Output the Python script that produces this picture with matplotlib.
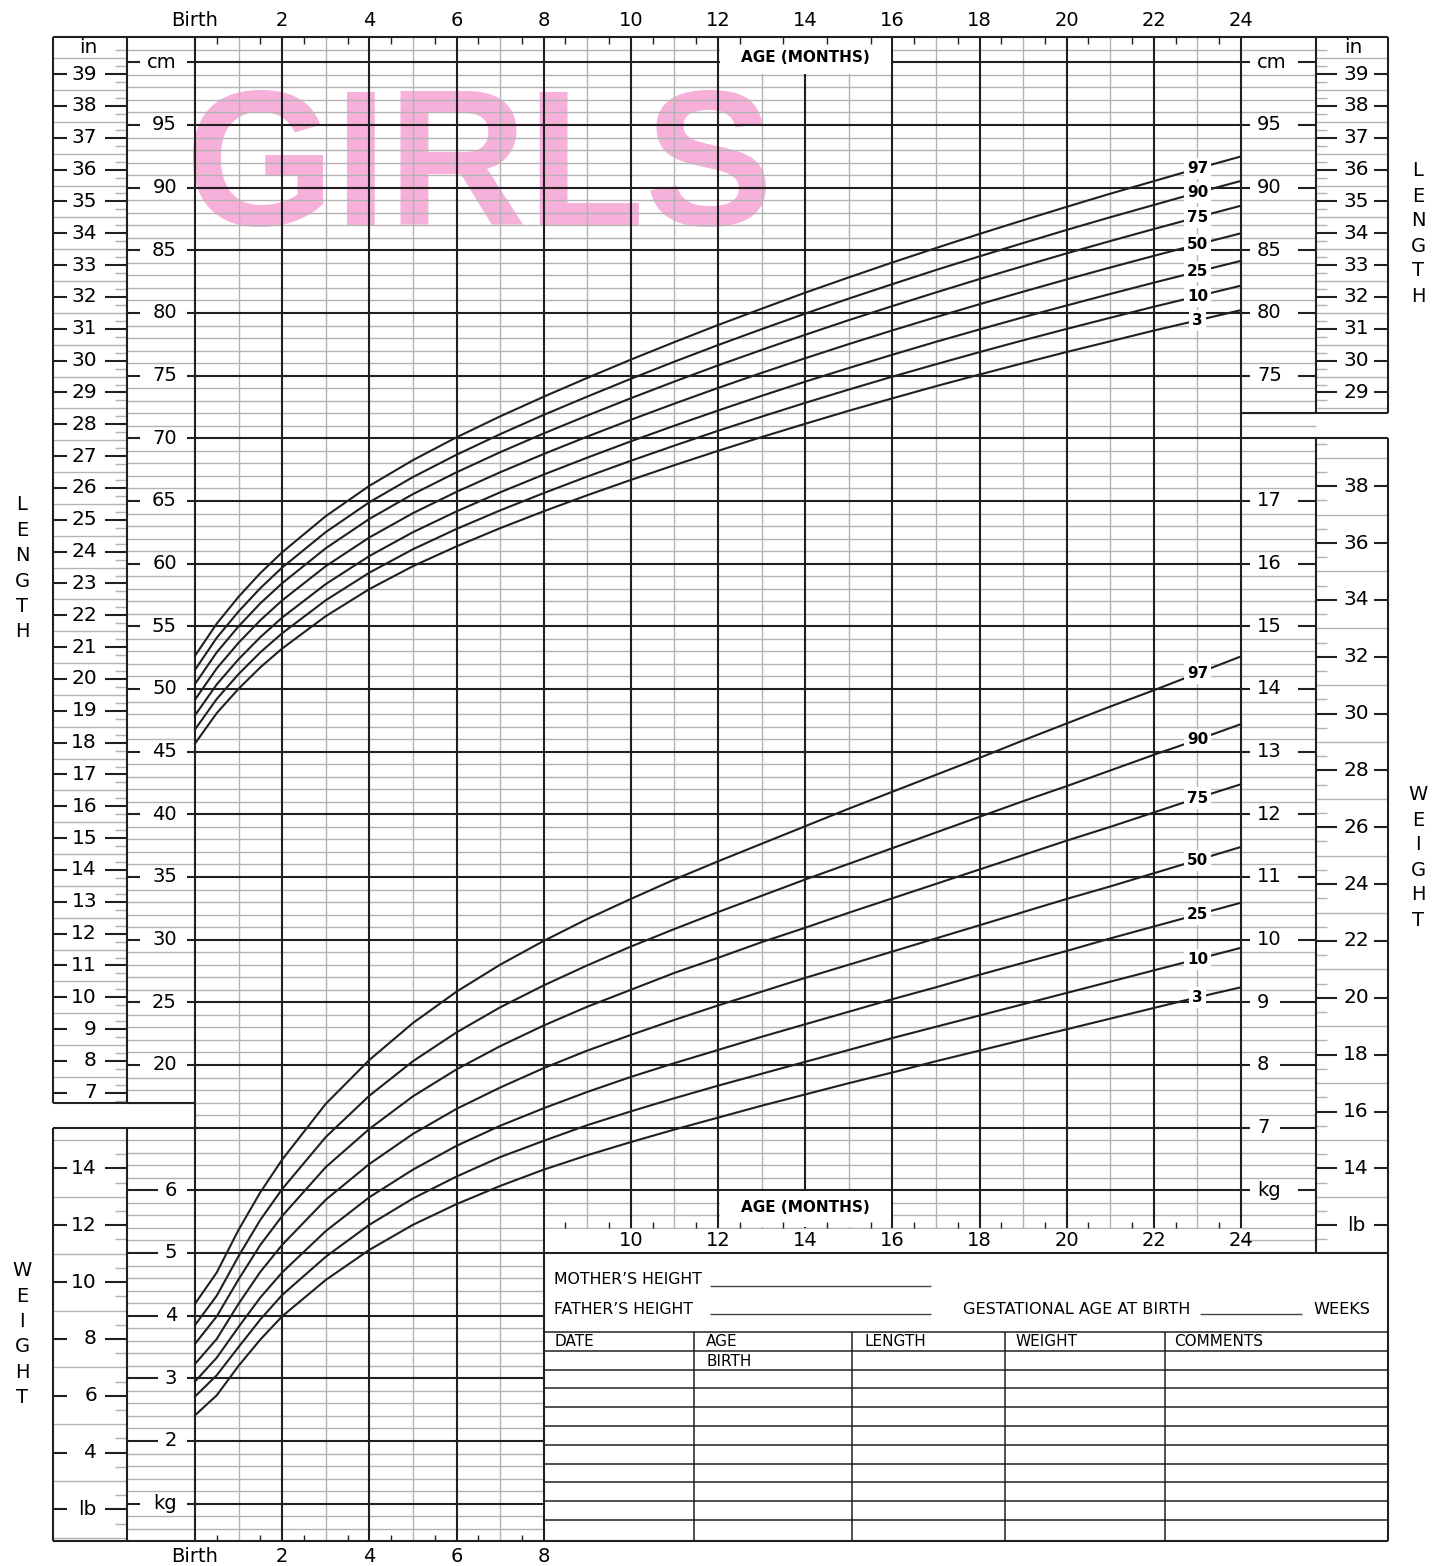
import numpy as np
import matplotlib
matplotlib.use("Agg")
from matplotlib import pyplot as plt
from matplotlib.patches import Rectangle

plt.rcParams['font.family'] = ['DejaVu Sans']

# ---------------- data ----------------
percentiles = ["3", "10", "25", "50", "75", "90", "97"]

# length (cm) by age (months)
length_age = [0, 0.5, 1, 1.5, 2, 3, 4, 5, 6, 7, 8, 9, 10, 11, 12, 13, 14,
              15, 16, 17, 18, 19, 20, 21, 22, 23, 24]
length_p3 = [45.65, 48.08, 50.02, 51.73, 53.23, 55.81, 57.97, 59.80, 61.38, 62.83, 64.18, 65.46,
             66.68, 67.86, 69.00, 70.10, 71.16, 72.20, 73.19, 74.16, 75.09, 76.00, 76.89, 77.74,
             78.60, 79.41, 80.23]
length_p10 = [46.77, 49.21, 51.19, 52.93, 54.45, 57.08, 59.28, 61.15, 62.77, 64.25, 65.63, 66.95,
              68.21, 69.42, 70.60, 71.73, 72.83, 73.89, 74.92, 75.91, 76.88, 77.82, 78.73, 79.62,
              80.50, 81.34, 82.18]
length_p25 = [47.90, 50.37, 52.38, 54.14, 55.70, 58.37, 60.61, 62.51, 64.17, 65.69, 67.11, 68.46,
              69.76, 71.01, 72.22, 73.39, 74.52, 75.61, 76.67, 77.70, 78.69, 79.66, 80.60, 81.52,
              82.42, 83.30, 84.16]
length_p50 = [49.15, 51.65, 53.69, 55.49, 57.07, 59.80, 62.09, 64.03, 65.73, 67.29, 68.75, 70.14,
              71.48, 72.77, 74.02, 75.22, 76.39, 77.52, 78.61, 79.67, 80.70, 81.70, 82.68, 83.63,
              84.56, 85.47, 86.36]
length_p75 = [50.40, 52.93, 55.00, 56.84, 58.44, 61.23, 63.57, 65.55, 67.29, 68.89, 70.39, 71.82,
              73.20, 74.53, 75.82, 77.05, 78.26, 79.43, 80.55, 81.64, 82.71, 83.74, 84.76, 85.74,
              86.70, 87.64, 88.56]
length_p90 = [51.53, 54.09, 56.19, 58.05, 59.69, 62.52, 64.90, 66.91, 68.69, 70.33, 71.87, 73.33,
              74.75, 76.12, 77.44, 78.71, 79.95, 81.15, 82.30, 83.43, 84.52, 85.58, 86.63, 87.64,
              88.62, 89.60, 90.54]
length_p97 = [52.65, 55.22, 57.36, 59.25, 60.91, 63.79, 66.21, 68.26, 70.08, 71.75, 73.32, 74.82,
              76.28, 77.68, 79.04, 80.34, 81.62, 82.84, 84.03, 85.18, 86.31, 87.40, 88.47, 89.52,
              90.52, 91.53, 92.49]

# weight (kg) by age (months)
weight_age = [0, 0.5, 1, 1.5, 2, 3, 4, 5, 6, 7, 8, 9, 10, 11, 12, 13, 14,
              15, 16, 17, 18, 19, 20, 21, 22, 23, 24]
weight_p3 = [2.41, 2.73, 3.20, 3.62, 3.99, 4.57, 5.05, 5.45, 5.78, 6.07, 6.33, 6.56, 6.77,
             6.97, 7.16, 7.35, 7.53, 7.71, 7.88, 8.06, 8.23, 8.40, 8.57, 8.74, 8.91, 9.08, 9.24]
weight_p10 = [2.71, 3.05, 3.50, 3.94, 4.33, 4.94, 5.45, 5.87, 6.22, 6.53, 6.79, 7.04, 7.26,
              7.47, 7.67, 7.86, 8.05, 8.24, 8.43, 8.61, 8.79, 8.97, 9.15, 9.33, 9.51, 9.69, 9.87]
weight_p25 = [2.95, 3.33, 3.82, 4.29, 4.69, 5.35, 5.89, 6.33, 6.71, 7.03, 7.31, 7.57, 7.81,
              8.03, 8.24, 8.45, 8.65, 8.85, 9.05, 9.24, 9.44, 9.63, 9.82, 10.02, 10.21, 10.40, 10.59]
weight_p50 = [3.23, 3.63, 4.19, 4.70, 5.13, 5.85, 6.42, 6.90, 7.30, 7.64, 7.95, 8.23, 8.48,
              8.72, 8.95, 9.17, 9.39, 9.60, 9.81, 10.02, 10.23, 10.44, 10.65, 10.85, 11.06, 11.27, 11.48]
weight_p75 = [3.55, 3.99, 4.58, 5.13, 5.59, 6.37, 6.98, 7.50, 7.93, 8.30, 8.63, 8.93, 9.20,
              9.47, 9.71, 9.96, 10.19, 10.43, 10.66, 10.89, 11.12, 11.35, 11.58, 11.80, 12.03, 12.26, 12.48]
weight_p90 = [3.85, 4.32, 4.95, 5.53, 6.02, 6.85, 7.51, 8.06, 8.52, 8.92, 9.27, 9.59, 9.89,
              10.17, 10.44, 10.70, 10.96, 11.21, 11.46, 11.71, 11.96, 12.21, 12.45, 12.70, 12.95, 13.19, 13.44]
weight_p97 = [4.19, 4.69, 5.37, 5.97, 6.49, 7.38, 8.08, 8.67, 9.17, 9.60, 9.98, 10.33, 10.65,
              10.96, 11.25, 11.53, 11.81, 12.09, 12.36, 12.63, 12.90, 13.18, 13.45, 13.72, 13.98, 14.25, 14.52]

length_curves = [length_p3, length_p10, length_p25, length_p50, length_p75, length_p90, length_p97]
weight_curves = [weight_p3, weight_p10, weight_p25, weight_p50, weight_p75, weight_p90, weight_p97]

top_ages = [0, 2, 4, 6, 8, 10, 12, 14, 16, 18, 20, 22, 24]
top_age_labels = ["Birth", "2", "4", "6", "8", "10", "12", "14", "16", "18", "20", "22", "24"]
bottom_ages = [0, 2, 4, 6, 8]
bottom_age_labels = ["Birth", "2", "4", "6", "8"]
mid_ages = [10, 12, 14, 16, 18, 20, 22, 24]
mid_age_labels = ["10", "12", "14", "16", "18", "20", "22", "24"]

cm_ticks = [100, 95, 90, 85, 80, 75, 70, 65, 60, 55, 50, 45, 40, 35, 30, 25, 20]
cm_labels = ["cm", "95", "90", "85", "80", "75", "70", "65", "60", "55", "50", "45", "40",
             "35", "30", "25", "20"]
cm_right_ticks = [100, 95, 90, 85, 80, 75]
cm_right_labels = ["cm", "95", "90", "85", "80", "75"]
kg_left_ticks = [6, 5, 4, 3, 2, 1]
kg_left_labels = ["6", "5", "4", "3", "2", "kg"]
kg_right_ticks = [17, 16, 15, 14, 13, 12, 11, 10, 9, 8, 7, 6]
kg_right_labels = ["17", "16", "15", "14", "13", "12", "11", "10", "9", "8", "7", "kg"]
in_left_ticks = list(range(7, 40))
in_right_ticks = list(range(29, 40))
lb_left_ticks = [14, 12, 10, 8, 6, 4, 2]
lb_left_labels = ["14", "12", "10", "8", "6", "4", "lb"]
lb_right_ticks = [38, 36, 34, 32, 30, 28, 26, 24, 22, 20, 18, 16, 14, 12]
lb_right_labels = ["38", "36", "34", "32", "30", "28", "26", "24", "22", "20", "18", "16", "14", "lb"]

table_headers = ["DATE", "AGE", "LENGTH", "WEIGHT", "COMMENTS"]

# ---------------- layout helpers (pixel -> chart units) ----------------
PX_MONTH = (1241 - 195) / 24.0
PX_CM = (1065 - 125) / 75.0


def mx(px):
    return (px - 195) / PX_MONTH


def cy(py):
    return 95 - (py - 125) / PX_CM


def kg_y(kg):
    # weight shares the length axis: 1 kg = 5 cm, 4 kg at 0
    return 5 * (np.asarray(kg, dtype=float) - 4)


def in_y(inch):
    return 2.54 * np.asarray(inch, dtype=float)


def lb_y(lb):
    return kg_y(np.asarray(lb, dtype=float) * 0.45359237)


GRAY = "#b3b3b3"
BLACK = "#231f20"
LW_G = 1.0
LW_B = 1.5

X_IN_L, X_CM_L = mx(53), mx(127)
X_COL_R, X_EDGE_R = mx(1316), mx(1388)
Y_TOP, Y_BOT = 102, -18

fig = plt.figure(figsize=(14.32, 15.66), dpi=100)
ax = fig.add_axes([0, 0, 1, 1])
ax.set_xlim(mx(0), mx(1432))
ax.set_ylim(cy(1566), cy(0))
ax.axis("off")

# GIRLS title, behind the grid
ax.text(mx(184), cy(225), "GIRLS", family=["Liberation Sans", "DejaVu Sans"], weight="bold",
        fontsize=139, color="#f6b0d9", ha="left", va="baseline", zorder=0.5)

# ---------------- grid ----------------
for m in range(1, 24, 2):
    ax.vlines(m, Y_BOT if m < 8 else 7, Y_TOP, color=GRAY, lw=LW_G, zorder=1)
for m in range(0, 25, 2):
    ax.vlines(m, Y_BOT if m <= 8 else 7, Y_TOP, color=BLACK, lw=LW_B, zorder=2)

for y in range(-17, 102):
    if y % 5 == 0:
        continue
    x0 = 0 if y == 16 else X_CM_L
    x1 = X_COL_R if y > 5 else 8
    ax.hlines(y, x0, x1, color=GRAY, lw=LW_G, zorder=1)

for y in range(-15, 101, 5):
    x0 = X_IN_L if y == 15 else mx(187)
    if y in (70, 5):
        x1 = X_EDGE_R
    elif y <= 0:
        x1 = 8
    else:
        x1 = mx(1250)
    ax.hlines(y, x0, x1, color=BLACK, lw=LW_B, zorder=2)

# white boxes
ax.add_patch(Rectangle((12.035, 99.05), 3.93, 3.0, fc="white", ec="none", zorder=2.5))
ax.add_patch(Rectangle((12.035, 7.05), 3.93, 2.89, fc="white", ec="none", zorder=2.5))
ax.add_patch(Rectangle((8.035, 5.05), 24 - 8.035, 1.9, fc="white", ec="none", zorder=2.5))

# half-month ticks
for m in np.arange(0.5, 24, 1.0):
    ax.vlines(m, Y_TOP - 0.5, Y_TOP, color=BLACK, lw=1.0, zorder=3)
    if m < 8:
        ax.vlines(m, Y_BOT, Y_BOT + 0.5, color=BLACK, lw=1.0, zorder=3)
    else:
        ax.vlines(m, 7, 7.5, color=BLACK, lw=1.0, zorder=3)

ax.text(14, cy(58), "AGE (MONTHS)", ha="center", va="center", fontsize=11, weight="bold", zorder=4)
ax.text(14, cy(1207), "AGE (MONTHS)", ha="center", va="center", fontsize=11, weight="bold", zorder=4)

# ---------------- frame ----------------
fr = dict(color=BLACK, lw=LW_B, zorder=3)
ax.hlines([Y_TOP, Y_BOT], X_IN_L, X_EDGE_R, **fr)
ax.hlines(72, 24, X_EDGE_R, **fr)
ax.hlines(17, X_IN_L, 0, **fr)
for x in (X_IN_L, X_CM_L):
    ax.vlines(x, 17, Y_TOP, **fr)
    ax.vlines(x, Y_BOT, 15, **fr)
ax.vlines(X_COL_R, 72, Y_TOP, **fr)
ax.vlines(X_COL_R, 5, 70, **fr)
ax.vlines(X_EDGE_R, 72, Y_TOP, **fr)
ax.vlines(X_EDGE_R, Y_BOT, 70, **fr)

# ---------------- scale columns ----------------
NUM = 14
for y, lab in list(zip(cm_ticks, cm_labels)) + list(zip(kg_y(kg_left_ticks), kg_left_labels)):
    ax.text(mx(177), y, lab, ha="right", va="center", fontsize=NUM, zorder=4)
    ax.hlines(y, X_CM_L, mx(140) if len(lab) > 1 else mx(158), **fr)

for y, lab in list(zip(cm_right_ticks, cm_right_labels)) + list(zip(kg_y(kg_right_ticks), kg_right_labels)):
    ax.text(mx(1257), y, lab, ha="left", va="center", fontsize=NUM, zorder=4)
    ax.hlines(y, mx(1298) if len(lab) > 1 else mx(1280), X_COL_R, **fr)

# left inches
for i in in_left_ticks:
    ax.text(mx(97), in_y(i), str(i), ha="right", va="center", fontsize=14.5, zorder=4)
    ax.hlines(in_y(i), X_IN_L, mx(67), **fr)
    ax.hlines(in_y(i), mx(105), X_CM_L, **fr)
ax.hlines(in_y(np.arange(7.5, 40, 1.0)), X_IN_L, X_CM_L, color=GRAY, lw=LW_G, zorder=1)
ax.hlines(in_y(np.arange(6.75, 40, 0.5)), mx(115), X_CM_L, color=GRAY, lw=LW_G, zorder=1)
ax.text(mx(88), 101.2, "in", ha="center", va="center", fontsize=14.5, zorder=4)

# left pounds
for v, lab in zip(lb_left_ticks, lb_left_labels):
    ax.text(mx(97), lb_y(v), lab, ha="right", va="center", fontsize=14.5, zorder=4)
    ax.hlines(lb_y(v), X_IN_L, mx(67), **fr)
    ax.hlines(lb_y(v), mx(105), X_CM_L, **fr)
ax.hlines(lb_y(np.arange(1, 16, 2)), X_IN_L, X_CM_L, color=GRAY, lw=LW_G, zorder=1)
ax.hlines(lb_y(np.arange(1.5, 15, 1.0)), mx(115), X_CM_L, color=GRAY, lw=LW_G, zorder=1)

# right inches
for i in in_right_ticks:
    ax.text(mx(1356), in_y(i), str(i), ha="center", va="center", fontsize=14.5, zorder=4)
    ax.hlines(in_y(i), X_COL_R, mx(1337), **fr)
    ax.hlines(in_y(i), mx(1374), X_EDGE_R, **fr)
ax.hlines(in_y(np.arange(28.5, 40, 1.0)), X_COL_R, X_EDGE_R, color=GRAY, lw=LW_G, zorder=1)
ax.hlines(in_y(np.arange(28.75, 40, 0.5)), X_COL_R, mx(1327), color=GRAY, lw=LW_G, zorder=1)
ax.text(mx(1353), 101.2, "in", ha="center", va="center", fontsize=14.5, zorder=4)

# right pounds
for v, lab in zip(lb_right_ticks, lb_right_labels):
    ax.text(mx(1356), lb_y(v), lab, ha="center", va="center", fontsize=14.5, zorder=4)
    ax.hlines(lb_y(v), X_COL_R, mx(1337), **fr)
    ax.hlines(lb_y(v), mx(1374), X_EDGE_R, **fr)
ax.hlines(lb_y(np.arange(13, 40, 2)), X_COL_R, X_EDGE_R, color=GRAY, lw=LW_G, zorder=1)
ax.hlines(lb_y(np.arange(11.5, 40, 1.0)), X_COL_R, mx(1327), color=GRAY, lw=LW_G, zorder=1)

# age labels
for m, lab in zip(top_ages, top_age_labels):
    ax.text(m, cy(20), lab, ha="center", va="center", fontsize=NUM)
for m, lab in zip(bottom_ages, bottom_age_labels):
    ax.text(m, cy(1556), lab, ha="center", va="center", fontsize=NUM)
for m, lab in zip(mid_ages, mid_age_labels):
    ax.text(m, cy(1241), lab, ha="center", va="center", fontsize=NUM, zorder=4)


# vertical words
def stack(word, px_x, px_y0, step):
    for k, ch in enumerate(word):
        ax.text(mx(px_x), cy(px_y0 + k * step), ch, ha="center", va="center", fontsize=14)


stack("LENGTH", 22, 505, 25.4)
stack("WEIGHT", 22, 1271, 25.3)
stack("LENGTH", 1418, 171, 25.0)
stack("WEIGHT", 1418, 795, 25.0)

# ---------------- record table ----------------
row_y = [-1.3 - 1.5 * k for k in range(11)]
ax.hlines(row_y, 8, X_EDGE_R, color=BLACK, lw=1.1, zorder=3)
col_x = [mx(694), mx(852), mx(1005), mx(1165)]
ax.vlines(col_x, Y_BOT, row_y[0], color=BLACK, lw=1.1, zorder=3)
for x, lab in zip([mx(554), mx(706), mx(864), mx(1015), mx(1174)], table_headers):
    ax.text(x, cy(1342), lab, ha="left", va="center", fontsize=11, zorder=4)
ax.text(mx(706), cy(1361), "BIRTH", ha="left", va="center", fontsize=11, zorder=4)
ax.text(mx(554), cy(1280), "MOTHER\u2019S HEIGHT", ha="left", va="center", fontsize=11.3, zorder=4)
ax.text(mx(554), cy(1309), "FATHER\u2019S HEIGHT", ha="left", va="center", fontsize=11.3, zorder=4)
ax.text(mx(963), cy(1309), "GESTATIONAL AGE AT BIRTH", ha="left", va="center", fontsize=11.6, zorder=4)
ax.text(mx(1313), cy(1309), "WEEKS", ha="left", va="center", fontsize=11.6, zorder=4)
ax.hlines([cy(1286), cy(1314)], mx(710), mx(931), color="#444444", lw=1.0, zorder=3)
ax.hlines(cy(1314), mx(1200), mx(1302), color="#444444", lw=1.0, zorder=3)

# ---------------- percentile curves ----------------
for vals in length_curves:
    ax.plot(length_age, vals, color=BLACK, lw=1.5, zorder=4)
for vals in weight_curves:
    ax.plot(weight_age, kg_y(vals), color=BLACK, lw=1.5, zorder=4)

lab_box = dict(boxstyle="square,pad=0.2", fc="white", ec="none")
i_len = length_age.index(23)
i_wt = weight_age.index(23)
for p, vals in zip(percentiles, length_curves):
    ax.text(23, vals[i_len], p, ha="center", va="center", fontsize=11, weight="bold",
            bbox=lab_box, zorder=5)
for p, vals in zip(percentiles, weight_curves):
    ax.text(23, kg_y(vals[i_wt]), p, ha="center", va="center", fontsize=11, weight="bold",
            bbox=lab_box, zorder=5)

fig.savefig("out.png", dpi=100)
